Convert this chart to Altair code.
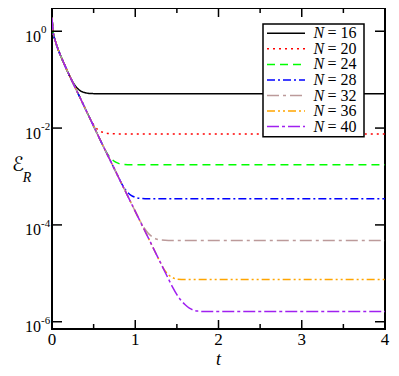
import altair as alt
import pandas as pd

# ---- data (log10 of E_R) ----
t_decay = [0, 0.013, 0.04, 0.07, 0.1, 0.15, 0.2, 0.3, 0.4, 0.5, 0.6, 0.7, 0.8, 0.9, 1.0, 1.1, 1.2, 1.3, 1.4]
log_decay = [0.28, 0.0, -0.2, -0.36, -0.49, -0.69, -0.88, -1.24, -1.60, -1.96, -2.32, -2.67, -3.02, -3.37, -3.72, -4.07, -4.42, -4.77, -5.12]

N_values = [16, 20, 24, 28, 32, 36, 40]
tail_t = {
    16: [0.25, 0.3, 0.35, 0.4, 0.45, 0.55, 4.0],
    20: [0.45, 0.5, 0.55, 0.6, 0.65, 0.7, 0.8, 4.0],
    24: [0.65, 0.7, 0.75, 0.8, 0.85, 0.95, 4.0],
    28: [0.85, 0.9, 0.95, 1.0, 1.05, 1.15, 4.0],
    32: [1.05, 1.1, 1.15, 1.2, 1.25, 1.3, 1.4, 4.0],
    36: [1.35, 1.4, 1.45, 1.5, 1.6, 4.0],
    40: [1.45, 1.5, 1.55, 1.6, 1.65, 1.7, 1.75, 1.85, 4.0],
}
tail_log = {
    16: [-1.05, -1.17, -1.24, -1.27, -1.285, -1.29, -1.29],
    20: [-1.78, -1.93, -2.03, -2.08, -2.105, -2.115, -2.12, -2.12],
    24: [-2.49, -2.61, -2.69, -2.73, -2.75, -2.76, -2.76],
    28: [-3.19, -3.31, -3.39, -3.43, -3.45, -3.46, -3.46],
    32: [-3.89, -4.04, -4.16, -4.24, -4.29, -4.31, -4.32, -4.32],
    36: [-4.93, -5.03, -5.09, -5.12, -5.13, -5.13],
    40: [-5.29, -5.44, -5.56, -5.65, -5.72, -5.76, -5.78, -5.79, -5.79],
}
colors = ["#000000", "#ff0000", "#00ff00", "#0000ff", "#bc9a9a", "#ffa500", "#a020f0"]
dashes = [[1, 0], [2, 4], [8, 5], [8, 3, 2, 3], [12, 4, 3, 4], [8, 3, 2, 3, 2, 3], [12, 3, 3, 3]]

xticks_major = [0, 1, 2, 3, 4]
xtick_labels = ["0", "1", "2", "3", "4"]
xticks_minor = [0.5, 1.5, 2.5, 3.5]
yticks = [1.0, 1e-2, 1e-4, 1e-6]
ytick_exp = ["0", "-2", "-4", "-6"]

W, H = 333, 321
FONT = "'Liberation Serif', 'Times New Roman', Times, serif"

xs = alt.Scale(domain=[0, 4], nice=False, zero=False)
ys = alt.Scale(type="log", domain=[10 ** -6.15, 10 ** 0.48], nice=False)

layers = []

# curves
for i, n in enumerate(N_values):
    first = tail_t[n][0]
    ts = [t for t in t_decay if t < first] + tail_t[n]
    ls = [l for t, l in zip(t_decay, log_decay) if t < first] + tail_log[n]
    df = pd.DataFrame({"t": ts, "E": [10 ** v for v in ls]})
    layers.append(
        alt.Chart(df).mark_line(
            color=colors[i], strokeDash=dashes[i], strokeWidth=1.5,
            interpolate="monotone", clip=True
        ).encode(
            x=alt.X("t:Q", scale=xs, axis=None),
            y=alt.Y("E:Q", scale=ys, axis=None),
        )
    )

# ticks (inward)
dfx = pd.DataFrame({"v": xticks_major, "lab": xtick_labels})
dfxm = pd.DataFrame({"v": xticks_minor})
dfy = pd.DataFrame({"v": yticks, "e": ytick_exp})
for d, ln in ((dfx, 9), (dfxm, 5)):
    layers.append(alt.Chart(d).mark_rule(color="black", strokeWidth=1.5).encode(
        x=alt.X("v:Q", scale=xs, axis=None), y=alt.value(H), y2=alt.value(H - ln)))
    layers.append(alt.Chart(d).mark_rule(color="black", strokeWidth=1.5).encode(
        x=alt.X("v:Q", scale=xs, axis=None), y=alt.value(0), y2=alt.value(ln)))
layers.append(alt.Chart(dfy).mark_rule(color="black", strokeWidth=1.5).encode(
    y=alt.Y("v:Q", scale=ys, axis=None), x=alt.value(0), x2=alt.value(10)))
layers.append(alt.Chart(dfy).mark_rule(color="black", strokeWidth=1.5).encode(
    y=alt.Y("v:Q", scale=ys, axis=None), x=alt.value(W), x2=alt.value(W - 10)))

# tick labels
layers.append(alt.Chart(dfx).mark_text(font=FONT, fontSize=17, baseline="middle", align="center").encode(
    x=alt.X("v:Q", scale=xs, axis=None), y=alt.value(H + 11), text="lab:N"))
layers.append(alt.Chart(dfy).mark_text(font=FONT, fontSize=16, baseline="middle", align="right", dy=5.5).encode(
    y=alt.Y("v:Q", scale=ys, axis=None), x=alt.value(-11), text=alt.value("10")))
layers.append(alt.Chart(dfy).mark_text(font=FONT, fontSize=11, baseline="middle", align="left", dy=-1).encode(
    y=alt.Y("v:Q", scale=ys, axis=None), x=alt.value(-11), text="e:N"))

# axis titles
one = pd.DataFrame({"a": [0]})
layers.append(alt.Chart(one).mark_text(font=FONT, fontSize=18, fontStyle="italic", baseline="alphabetic", align="center").encode(
    x=alt.value(W / 2), y=alt.value(H + 35.5), text=alt.value("t")))
layers.append(alt.Chart(one).mark_text(font="'DejaVu Serif', 'DejaVu Sans', serif", fontSize=20, baseline="middle", align="center").encode(
    x=alt.value(-34), y=alt.value(157), text=alt.value("ℰ")))
layers.append(alt.Chart(one).mark_text(font=FONT, fontSize=14, fontStyle="italic", baseline="middle", align="center").encode(
    x=alt.value(-25), y=alt.value(170), text=alt.value("R")))

# legend
layers.append(alt.Chart(one).mark_rect(fill="white", stroke="black", strokeWidth=1.5).encode(
    x=alt.value(211), x2=alt.value(312), y=alt.value(16), y2=alt.value(128.7)))
for i, n in enumerate(N_values):
    yy = 25.3 + 15.55 * i
    layers.append(alt.Chart(one).mark_rule(color=colors[i], strokeDash=dashes[i], strokeWidth=1.5).encode(
        x=alt.value(215), x2=alt.value(253), y=alt.value(yy)))
    layers.append(alt.Chart(one).mark_text(font=FONT, fontSize=16, fontStyle="italic", baseline="middle", align="left").encode(
        x=alt.value(261.5), y=alt.value(yy), text=alt.value("N")))
    layers.append(alt.Chart(one).mark_text(font=FONT, fontSize=16, baseline="middle", align="left").encode(
        x=alt.value(275.5), y=alt.value(yy), text=alt.value(f"= {n}")))

chart = alt.layer(*layers).properties(
    width=W, height=H,
    padding={"left": 44, "top": 0, "right": 6, "bottom": 39},
    autosize=alt.AutoSizeParams(type="none"),
).configure_view(stroke="black", strokeWidth=2)

chart.save("out.html", embed_options={"renderer": "svg", "actions": False})
